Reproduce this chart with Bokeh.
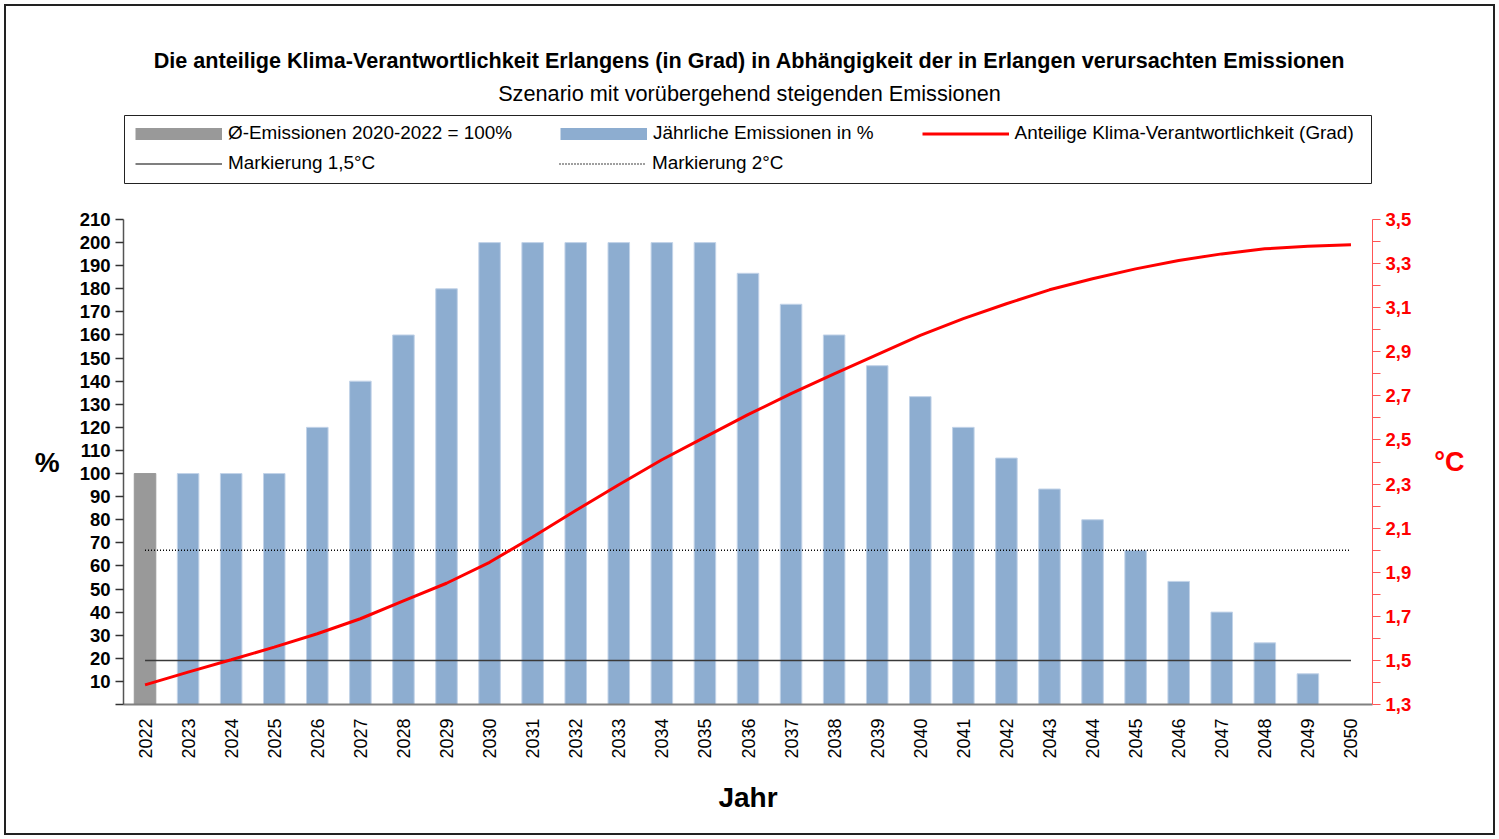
from bokeh.plotting import figure
from bokeh.layouts import column
from bokeh.models import (Range1d, LinearAxis, FixedTicker, CustomJSTickFormatter,
                          Legend, LegendItem, Label, BoxAnnotation)
from bokeh.embed import file_html
from bokeh.resources import INLINE
import math

# ---------------- data ----------------
years = [str(y) for y in range(2022, 2051)]
emissions = [100, 100, 100, 100, 120, 140, 160, 180, 200, 200, 200, 200, 200, 200,
             186.7, 173.3, 160, 146.7, 133.3, 120, 106.7, 93.3, 80, 66.7, 53.3, 40,
             26.7, 13.3, 0]
baseline_years = ["2022"]
baseline_values = [100]
degrees = [1.389, 1.447, 1.503, 1.56, 1.621, 1.689, 1.77, 1.85, 1.945, 2.06, 2.18,
           2.297, 2.41, 2.513, 2.615, 2.71, 2.8, 2.887, 2.974, 3.05, 3.118, 3.181,
           3.231, 3.276, 3.314, 3.344, 3.367, 3.379, 3.385]
mark_years = ["2022", "2050"]
mark_15 = [1.5, 1.5]
mark_20 = [2.0, 2.0]
left_ticks = [0, 10, 20, 30, 40, 50, 60, 70, 80, 90, 100, 110, 120, 130, 140, 150,
              160, 170, 180, 190, 200, 210]
right_ticks = [1.3, 1.5, 1.7, 1.9, 2.1, 2.3, 2.5, 2.7, 2.9, 3.1, 3.3, 3.5]
right_minor = [1.4, 1.6, 1.8, 2.0, 2.2, 2.4, 2.6, 2.8, 3.0, 3.2, 3.4]

title_text = "Die anteilige Klima-Verantwortlichkeit Erlangens (in Grad) in Abhängigkeit der in Erlangen verursachten Emissionen"
subtitle_text = "Szenario mit vorübergehend steigenden Emissionen"
legend_labels = ["Ø-Emissionen 2020-2022 = 100%", "Jährliche Emissionen in %",
                 "Anteilige Klima-Verantwortlichkeit (Grad)", "Markierung 1,5°C",
                 "Markierung 2°C"]

FONT = "Liberation Sans"
BLUE = "#8dadd0"
GRAY = "#999999"
RED = "#ff0000"

blue_years = years[1:]
blue_values = emissions[1:]

W = 1487
H_HEAD = 200
H_MAIN = 627
BL, BR = 117, 121

# ---------------- header (titles + legend) ----------------
head = figure(width=W, height=H_HEAD, x_range=Range1d(123, 1372),
              y_range=Range1d(206, 6),
              output_backend="svg", toolbar_location=None,
              x_axis_location=None, y_axis_location=None,
              min_border=0, min_border_left=BL, min_border_right=BR,
              min_border_top=0, min_border_bottom=0)
head.outline_line_color = None
head.grid.visible = False
head.background_fill_color = "white"
head.border_fill_color = "white"

head.add_layout(Label(x=749, y=60, text=title_text, text_font=FONT,
                      text_font_style="bold", text_font_size="21.6px",
                      text_align="center", text_baseline="middle", text_color="black"))
head.add_layout(Label(x=749, y=93, text=subtitle_text, text_font=FONT,
                      text_font_size="21.7px", text_align="center",
                      text_baseline="middle", text_color="black"))
head.add_layout(BoxAnnotation(left=124, right=1371, top=115, bottom=183, fill_alpha=0,
                              line_color="#222222", line_alpha=1.0, line_width=1))

# legend sample glyphs (placed outside the visible range of the header)
kx = [0, 10]
ky = [300, 300]
k_gray = head.line(x=kx, y=ky, line_color=GRAY, line_width=12)
k_blue = head.line(x=kx, y=ky, line_color=BLUE, line_width=12)
k_red = head.line(x=kx, y=ky, line_color=RED, line_width=3)
k_15 = head.line(x=kx, y=ky, line_color="black", line_width=1.2)
k_20 = head.line(x=kx, y=ky, line_color="black", line_width=1.5, line_dash="1 2")

def make_legend(items, loc, **kw):
    return Legend(items=items, location=loc, orientation="horizontal",
                  glyph_width=87, glyph_height=15, label_height=20,
                  label_standoff=6, padding=0, margin=0,
                  label_text_font=FONT, label_text_font_size="18.9px",
                  label_text_color="black", border_line_alpha=0,
                  background_fill_alpha=0, **kw)

legA = make_legend([
    LegendItem(label=legend_labels[0], renderers=[k_gray]),
    LegendItem(label=legend_labels[1], renderers=[k_blue]),
    LegendItem(label=legend_labels[2], renderers=[k_red]),
], (12, 62), spacing=48)
legB = make_legend([
    LegendItem(label=legend_labels[3], renderers=[k_15]),
    LegendItem(label=legend_labels[4], renderers=[k_20]),
], (12, 32), spacing=0, label_width=331)
head.add_layout(legA)
head.add_layout(legB)

# ---------------- main chart ----------------
p = figure(width=W, height=H_MAIN, x_range=years, y_range=Range1d(0, 210),
           output_backend="svg", toolbar_location=None,
           min_border_left=BL, min_border_right=BR, min_border_top=13,
           min_border_bottom=129)
p.extra_y_ranges = {"deg": Range1d(1.3, 3.5)}
p.outline_line_color = None
p.xgrid.visible = False
p.ygrid.visible = False
p.background_fill_color = "white"
p.border_fill_color = "white"

r_gray = p.vbar(x=baseline_years, top=baseline_values, width=0.5, fill_color=GRAY,
                line_color=GRAY)
r_blue = p.vbar(x=blue_years, top=blue_values, width=0.5, fill_color=BLUE,
                line_color="#c2d3e8", line_width=1)
r_15 = p.line(x=mark_years, y=mark_15, y_range_name="deg", line_color="#3a3a3a",
              line_width=1.5)
r_20 = p.line(x=mark_years, y=mark_20, y_range_name="deg", line_color="black",
              line_width=1.5, line_dash="1 2")
r_red = p.line(x=years, y=degrees, y_range_name="deg", line_color=RED, line_width=3)

# left axis
ya = p.yaxis[0]
ya.ticker = FixedTicker(ticks=left_ticks)
ya.formatter = CustomJSTickFormatter(code="return tick == 0 ? '' : tick.toFixed(0);")
ya.major_label_text_font = FONT
ya.major_label_text_font_style = "bold"
ya.major_label_text_font_size = "18.5px"
ya.major_label_text_color = "black"
ya.major_tick_out = 8
ya.major_tick_in = 0
ya.minor_tick_line_color = None
ya.axis_line_color = "#555555"
ya.axis_line_width = 1.5
ya.major_tick_line_color = "#333333"
ya.major_tick_line_width = 1.5
ya.major_label_standoff = 5
ya.axis_label = "%"
ya.axis_label_text_font = FONT
ya.axis_label_text_font_style = "bold"
ya.axis_label_text_font_size = "28px"
ya.axis_label_text_color = "black"
ya.axis_label_standoff = 17

# right axis
ra = LinearAxis(y_range_name="deg",
                ticker=FixedTicker(ticks=right_ticks, minor_ticks=right_minor),
                formatter=CustomJSTickFormatter(code="return tick.toFixed(1).replace('.', ',');"))
ra.major_label_text_font = FONT
ra.major_label_text_font_style = "bold"
ra.major_label_text_font_size = "18.5px"
ra.major_label_text_color = RED
ra.axis_line_color = "#ff5555"
ra.major_tick_line_color = "#ff5555"
ra.minor_tick_line_color = "#ff5555"
ra.major_tick_out = 8
ra.major_tick_in = 0
ra.minor_tick_out = 8
ra.minor_tick_in = 0
ra.major_label_standoff = 5
ra.axis_label = "°C"
ra.axis_label_text_font = FONT
ra.axis_label_text_font_style = "bold"
ra.axis_label_text_font_size = "27px"
ra.axis_label_text_color = RED
ra.axis_label_standoff = 20
p.add_layout(ra, "right")

for ax in (ya, ra):
    try:
        ax.axis_label_orientation = "horizontal"
    except Exception:
        pass

# bottom axis
xa = p.xaxis[0]
xa.major_label_orientation = math.pi / 2
xa.major_label_text_font = FONT
xa.major_label_text_font_size = "18px"
xa.major_label_text_color = "black"
xa.major_tick_line_color = None
xa.major_tick_out = 0
xa.major_tick_in = 0
xa.minor_tick_line_color = None
xa.axis_line_color = "#808080"
xa.axis_line_width = 2
xa.major_label_standoff = 14
xa.axis_label = "Jahr"
xa.axis_label_text_font = FONT
xa.axis_label_text_font_style = "bold"
xa.axis_label_text_font_size = "28px"
xa.axis_label_text_color = "black"
xa.axis_label_standoff = 20

layout = column(head, p, spacing=0)
layout.styles = {"border": "2px solid #222222", "margin": "4px"}

open("out.html", "w").write(file_html(layout, INLINE))
